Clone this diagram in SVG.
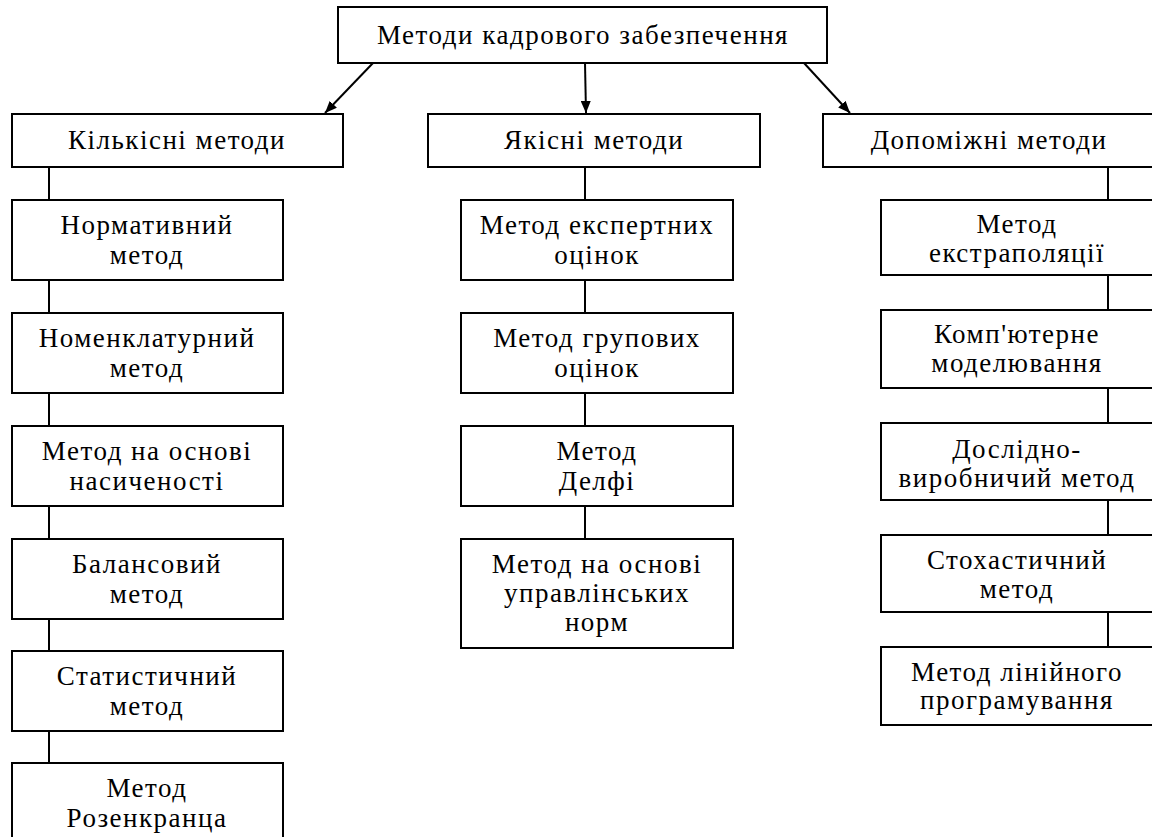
<svg xmlns="http://www.w3.org/2000/svg" width="1152" height="837" viewBox="0 0 1152 837" font-family="Liberation Serif, DejaVu Serif, serif">
<style>
.b{fill:#fff;stroke:#000;stroke-width:2}
text{font-size:27px;letter-spacing:1.5px;fill:#000;text-anchor:middle}
.c line{stroke:#000;stroke-width:2}
</style>
<defs>
<marker id="ah" markerWidth="12" markerHeight="10" refX="12" refY="5" orient="auto" markerUnits="userSpaceOnUse">
<path d="M0,0 L12,5 L0,10 Z" fill="#000"/>
</marker>
</defs>
<rect width="1152" height="837" fill="#fff"/>
<g class="c">
<line x1="373" y1="63" x2="325" y2="113" marker-end="url(#ah)"/>
<line x1="585" y1="63" x2="586" y2="113" marker-end="url(#ah)"/>
<line x1="804" y1="63" x2="850" y2="113" marker-end="url(#ah)"/>
<line x1="49" y1="167" x2="49" y2="200"/>
<line x1="49" y1="280" x2="49" y2="313"/>
<line x1="49" y1="393" x2="49" y2="426"/>
<line x1="49" y1="506" x2="49" y2="539"/>
<line x1="49" y1="619" x2="49" y2="651"/>
<line x1="49" y1="731" x2="49" y2="763"/>
<line x1="585" y1="167" x2="585" y2="200"/>
<line x1="585" y1="280" x2="585" y2="313"/>
<line x1="585" y1="393" x2="585" y2="426"/>
<line x1="585" y1="506" x2="585" y2="539"/>
<line x1="1108" y1="167" x2="1108" y2="200"/>
<line x1="1108" y1="275" x2="1108" y2="310"/>
<line x1="1108" y1="388" x2="1108" y2="423"/>
<line x1="1108" y1="500" x2="1108" y2="535"/>
<line x1="1108" y1="612" x2="1108" y2="647"/>
</g>
<g id="root"><rect class="b" x="338" y="7" width="489" height="56"/><text x="583" y="44">Методи кадрового забезпечення</text></g>
<g id="kilk"><rect class="b" x="12" y="114" width="331" height="53"/><text x="177" y="149">Кількісні методи</text></g>
<g id="yak"><rect class="b" x="428" y="114" width="332" height="53"/><text x="594" y="149">Якісні методи</text></g>
<g id="dop"><rect class="b" x="823" y="114" width="340" height="53"/><text x="989" y="149">Допоміжні методи</text></g>

<g id="l1"><rect class="b" x="12" y="200" width="271" height="80"/><text x="147" y="234">Нормативний</text><text x="147" y="264">метод</text></g>
<g id="l2"><rect class="b" x="12" y="313" width="271" height="80"/><text x="147" y="347">Номенклатурний</text><text x="147" y="377">метод</text></g>
<g id="l3"><rect class="b" x="12" y="426" width="271" height="80"/><text x="147" y="460">Метод на основі</text><text x="147" y="490">насиченості</text></g>
<g id="l4"><rect class="b" x="12" y="539" width="271" height="80"/><text x="147" y="573">Балансовий</text><text x="147" y="603">метод</text></g>
<g id="l5"><rect class="b" x="12" y="651" width="271" height="80"/><text x="147" y="685">Статистичний</text><text x="147" y="715">метод</text></g>
<g id="l6"><rect class="b" x="12" y="763" width="271" height="90"/><text x="147" y="797">Метод</text><text x="147" y="827">Розенкранца</text></g>

<g id="m1"><rect class="b" x="461" y="200" width="272" height="80"/><text x="597" y="234">Метод експертних</text><text x="597" y="264">оцінок</text></g>
<g id="m2"><rect class="b" x="461" y="313" width="272" height="80"/><text x="597" y="347">Метод групових</text><text x="597" y="377">оцінок</text></g>
<g id="m3"><rect class="b" x="461" y="426" width="272" height="80"/><text x="597" y="460">Метод</text><text x="597" y="490">Делфі</text></g>
<g id="m4"><rect class="b" x="461" y="539" width="272" height="109"/><text x="597" y="573">Метод на основі</text><text x="597" y="602">управлінських</text><text x="597" y="631">норм</text></g>

<g id="r1"><rect class="b" x="881" y="200" width="280" height="75"/><text x="1017" y="233">Метод</text><text x="1017" y="262">екстраполяції</text></g>
<g id="r2"><rect class="b" x="881" y="310" width="280" height="78"/><text x="1017" y="343">Комп'ютерне</text><text x="1017" y="372">моделювання</text></g>
<g id="r3"><rect class="b" x="881" y="423" width="280" height="77"/><text x="1017" y="458">Дослідно-</text><text x="1017" y="487">виробничий метод</text></g>
<g id="r4"><rect class="b" x="881" y="535" width="280" height="77"/><text x="1017" y="569">Стохастичний</text><text x="1017" y="598">метод</text></g>
<g id="r5"><rect class="b" x="881" y="647" width="280" height="78"/><text x="1017" y="681">Метод лінійного</text><text x="1017" y="709">програмування</text></g>
</svg>
